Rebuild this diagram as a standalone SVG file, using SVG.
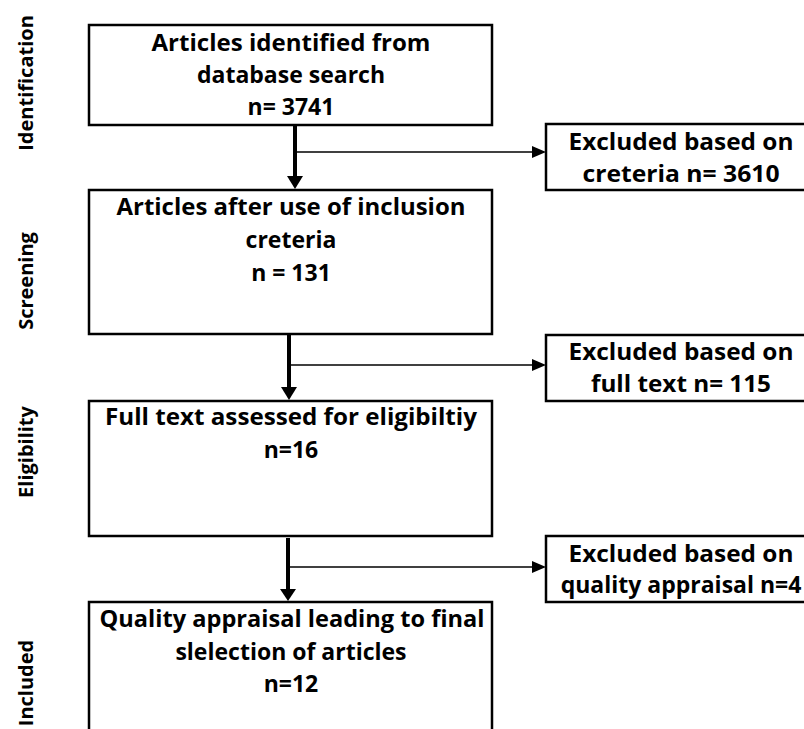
<svg xmlns="http://www.w3.org/2000/svg" width="804" height="729" viewBox="0 0 804 729">
<style>
.box{fill:#fff;stroke:#000;stroke-width:2.5}
.t{font-family:"Open Sans","Liberation Sans",sans-serif;font-weight:bold;font-size:23px;fill:#000;text-anchor:middle}
.side{font-family:"Open Sans","Liberation Sans",sans-serif;font-weight:bold;font-size:20px;fill:#000;text-anchor:middle}
.main{stroke:#000;stroke-width:4;fill:none}
.thin{stroke:#000;stroke-width:1.3;fill:none}
</style>
<g id="side-labels">
<text class="side" transform="translate(33,83) rotate(-90)">Identification</text>
<text class="side" transform="translate(33,281) rotate(-90)">Screening</text>
<text class="side" transform="translate(33,452) rotate(-90)">Eligibility</text>
<text class="side" transform="translate(33,683) rotate(-90)">Included</text>
</g>
<g id="connectors">
<line class="main" x1="295" y1="125" x2="295" y2="177"/>
<path d="M287,176 L303,176 L295,189 Z"/>
<line class="thin" x1="297" y1="152" x2="534" y2="152"/>
<path d="M532,146 L546,152 L532,158 Z"/>
<line class="main" x1="289" y1="334" x2="289" y2="388"/>
<path d="M281,387 L297,387 L289,400 Z"/>
<line class="thin" x1="291" y1="365" x2="534" y2="365"/>
<path d="M532,359 L546,365 L532,371 Z"/>
<line class="main" x1="288" y1="538" x2="288" y2="590"/>
<path d="M280,589 L296,589 L288,601 Z"/>
<line class="thin" x1="290" y1="567" x2="534" y2="567"/>
<path d="M532,561 L546,567 L532,573 Z"/>
</g>
<g id="n1">
<rect class="box" x="89" y="25" width="403" height="100"/>
<text class="t" x="291" y="51" textLength="279" lengthAdjust="spacingAndGlyphs">Articles identified from</text>
<text class="t" x="291" y="83">database search</text>
<text class="t" x="291" y="115">n= 3741</text>
</g>
<g id="n2">
<rect class="box" x="89" y="190" width="403" height="144"/>
<text class="t" x="291" y="215" textLength="349" lengthAdjust="spacingAndGlyphs">Articles after use of inclusion</text>
<text class="t" x="291" y="248">creteria</text>
<text class="t" x="291" y="281">n = 131</text>
</g>
<g id="n3">
<rect class="box" x="89" y="401" width="403" height="135"/>
<text class="t" x="291" y="425" textLength="372" lengthAdjust="spacingAndGlyphs">Full text assessed for eligibiltiy</text>
<text class="t" x="291" y="458">n=16</text>
</g>
<g id="n4">
<rect class="box" x="89" y="602" width="403" height="140"/>
<text class="t" x="292" y="627" textLength="385" lengthAdjust="spacingAndGlyphs">Quality appraisal leading to final</text>
<text class="t" x="291" y="660">slelection of articles</text>
<text class="t" x="291" y="692">n=12</text>
</g>
<g id="e1">
<rect class="box" x="546" y="124" width="270" height="66"/>
<text class="t" x="681" y="150" textLength="225" lengthAdjust="spacingAndGlyphs">Excluded based on</text>
<text class="t" x="681" y="182" textLength="197" lengthAdjust="spacingAndGlyphs">creteria n= 3610</text>
</g>
<g id="e2">
<rect class="box" x="546" y="335" width="270" height="66"/>
<text class="t" x="681" y="360" textLength="225" lengthAdjust="spacingAndGlyphs">Excluded based on</text>
<text class="t" x="681" y="392" textLength="180" lengthAdjust="spacingAndGlyphs">full text n= 115</text>
</g>
<g id="e3">
<rect class="box" x="546" y="536" width="270" height="66"/>
<text class="t" x="681" y="562" textLength="225" lengthAdjust="spacingAndGlyphs">Excluded based on</text>
<text class="t" x="681" y="593">quality appraisal n=4</text>
</g>
</svg>
